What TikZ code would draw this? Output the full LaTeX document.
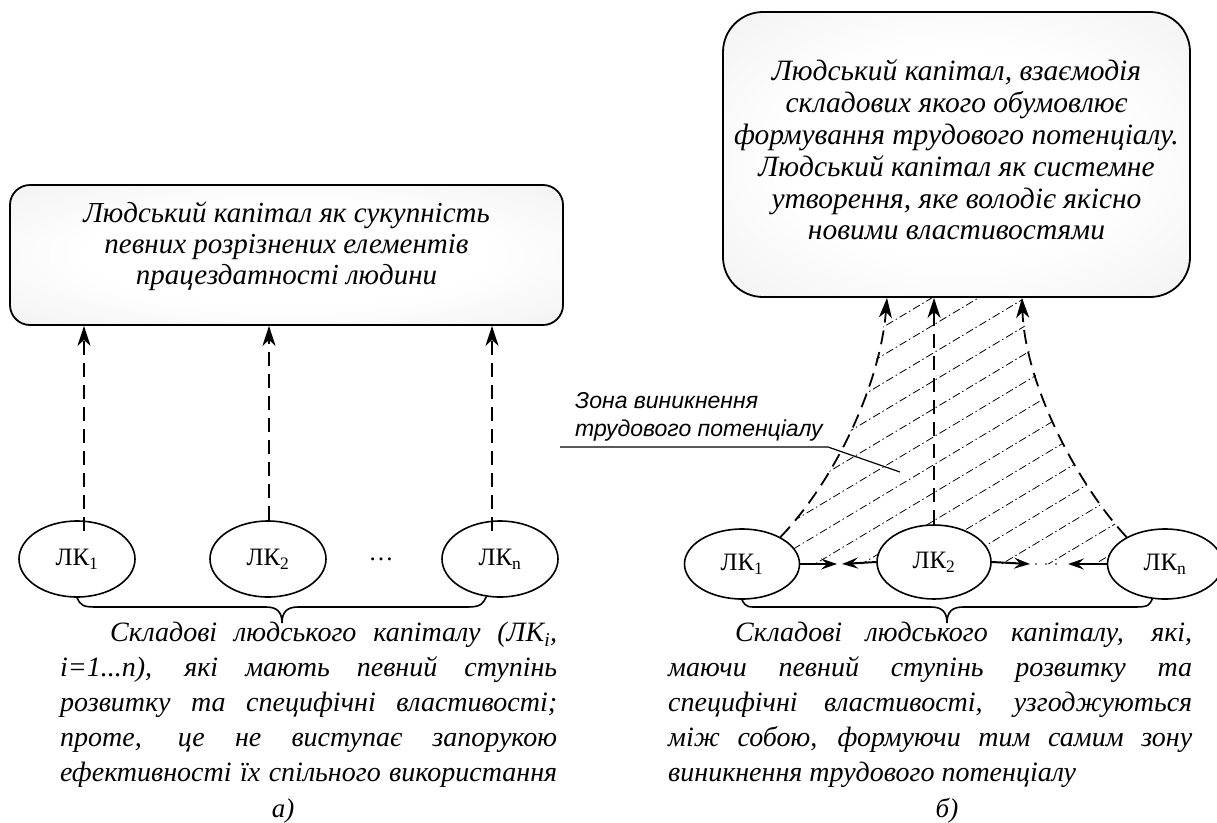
\documentclass[tikz,border=0pt]{standalone}
\usepackage{fontspec}
\setmainfont{Liberation Serif}
\newfontfamily\zonafont{Liberation Sans}
\usetikzlibrary{positioning,calc,shapes.geometric,arrows.meta,backgrounds}

\newcommand{\jline}[2]{\makebox[#1][s]{#2}}
\pgfdeclareradialshading{boxshade}{\pgfpoint{0bp}{0bp}}{color(0bp)=(white); color(18bp)=(white); color(50bp)=(black!9); color(71bp)=(black!12)}

\tikzset{
  topbox/.style={draw=black,line width=1.8pt,rounded corners=20pt,shading=boxshade},
  lk/.style={draw=black,line width=1.6pt,ellipse,fill=white,inner sep=0pt,font=\fontsize{25}{28}\selectfont},
  dasharr/.style={line width=1.8pt,dash pattern=on 14pt off 8pt,-{Stealth[length=20pt,width=13pt,inset=6pt]}},
  solarr/.style={line width=2pt,-{Stealth[length=16pt,width=11pt,inset=6pt]}},
  hatch/.style={line width=0.8pt,dash pattern=on 8pt off 3pt on 1.5pt off 3pt},
  brace/.style={line width=1.6pt},
  boxtext/.style={align=center,font=\itshape\fontsize{29}{31}\selectfont},
  desc/.style={inner sep=0pt,align=left,anchor=north west,font=\itshape\fontsize{28}{35}\selectfont},
}

\begin{document}
\begin{tikzpicture}[x=1pt,y=-1pt]
\useasboundingbox (0,0) rectangle (1217,822);

% --- a) ---
\node[topbox,minimum width=553pt,minimum height=140pt] (boxa) at (286.5,255) {};
\node[boxtext] (boxatext) at (286.5,246) {Людський капітал як сукупність\\певних розрізнених елементів\\працездатності людини};

\node[lk,minimum width=116pt,minimum height=76pt] (lk1) at (77,559) {ЛК\textsubscript{1}};
\node[lk,minimum width=116pt,minimum height=76pt] (lk2) at (268,559) {ЛК\textsubscript{2}};
\node[lk,minimum width=116pt,minimum height=76pt] (lkn) at (500,559) {ЛК\textsubscript{n}};
\node[font=\fontsize{25}{28}\selectfont] (dotsa) at (381,559) {\dots};

\coordinate (a1) at ([xshift=7pt,yshift=-11pt]lk1.north);
\coordinate (a2) at ([xshift=1pt]lk2.north);
\coordinate (an) at ([xshift=-8pt,yshift=-11pt]lkn.north);
\draw[dasharr] (a1) -- (a1 |- boxa.south);
\draw[dasharr] (a2) -- (a2 |- boxa.south);
\draw[dasharr] (an) -- (an |- boxa.south);

\coordinate (tipa) at (282,623);
\draw[brace] (lk1.south) .. controls +(4,8) and +(-14,0) .. (97,607) -- (266,607)
  .. controls +(11,0) and +(0,-11) .. (tipa) .. controls +(0,-11) and +(-11,0) .. (298,607)
  -- (468,607) .. controls +(14,0) and +(-3,6) .. (lkn.250);

\node[desc] (desca) at (60,622) {\hspace*{50pt}\jline{447pt}{Складові людського капіталу (ЛК\textsubscript{i},}\\
  \jline{497pt}{i=1...n), які мають певний ступінь}\\
  \jline{497pt}{розвитку та специфічні властивості;}\\
  \jline{497pt}{проте, це не виступає запорукою}\\
  \jline{497pt}{ефективності їх спільного використання}};

\node[font=\itshape\fontsize{27}{30}\selectfont] (laba) at (283,811) {а)};

% --- б) ---
\node[topbox,rounded corners=40pt,minimum width=467pt,minimum height=285pt] (boxb) at (956.5,154.5) {};
\node[boxtext,font=\itshape\fontsize{29.5}{31.8}\selectfont] (boxbtext) at (956.5,150) {Людський капітал, взаємодія\\складових якого обумовлює\\формування трудового потенціалу.\\Людський капітал як системне\\утворення, яке володіє якісно\\новими властивостями};

\node[lk,minimum width=115pt,minimum height=70pt] (lk1r) at (742,564) {ЛК\textsubscript{1}};
\node[lk,minimum width=114pt,minimum height=74pt] (lk2r) at (934,562) {ЛК\textsubscript{2}};
\node[lk,minimum width=115pt,minimum height=70pt] (lknr) at (1165,564) {ЛК\textsubscript{n}};

\coordinate (ta) at (887,0 |- boxb.south);
\coordinate (tb) at (1022,0 |- boxb.south);
\draw[dasharr] (lk1r.35) .. controls (835,480) and (880,385) .. (ta);
\draw[dasharr] (lk2r.north) -- (lk2r.north |- boxb.south);
\draw[dasharr] (lknr.145) .. controls (1078,485) and (1025,385) .. (tb);

% zone hatching
\begin{scope}[on background layer]
  \clip (lk1r.35) .. controls (835,480) and (880,385) .. (ta) -- (tb)
    .. controls (1025,385) and (1078,485) .. (lknr.145) -- (1132,564) -- (781,564) -- cycle;
  \foreach \k in {-4,...,13}
    \draw[hatch] (780,{352+28*\k+93}) -- (1135,{352+28*\k-120});
\end{scope}

\coordinate (ma) at (837,564);
\coordinate (mb) at (842,564);
\coordinate (mc) at (1030,564);
\coordinate (md) at (1068,564);
\draw[solarr] (lk1r.east) -- (ma);
\draw[solarr] (lk2r.west) -- (mb);
\draw[solarr] (lk2r.east) -- (mc);
\draw[solarr] (lknr.west) -- (md);
\coordinate (dta) at (1036,564);
\coordinate (dtb) at (1058,564);
\draw[line width=1.8pt,dash pattern=on 0pt off 10pt,line cap=round] (dta) -- (dtb);

\coordinate (tipb) at (947,623);
\draw[brace] (lk1r.south) .. controls +(4,8) and +(-14,0) .. (762,607) -- (931,607)
  .. controls +(11,0) and +(0,-11) .. (tipb) .. controls +(0,-11) and +(-11,0) .. (963,607)
  -- (1135,607) .. controls +(14,0) and +(-3,6) .. (lknr.250);

% zone label
\node[anchor=south west,align=left,inner sep=0pt,font=\zonafont\itshape\fontsize{23}{28}\selectfont] (zona) at (575,441) {Зона виникнення\\трудового потенціалу};
\coordinate (zla) at (560,447);
\coordinate (zlb) at (828,447);
\coordinate (zlc) at (900,472);
\draw[line width=1.2pt] (zla) -- (zlb) -- (zlc);

\node[desc] (descb) at (668,622) {\hspace*{67pt}\jline{457pt}{Складові людського капіталу, які,}\\
  \jline{524pt}{маючи певний ступінь розвитку та}\\
  \jline{524pt}{специфічні властивості, узгоджуються}\\
  \jline{524pt}{між собою, формуючи тим самим зону}\\
  виникнення трудового потенціалу};

\node[font=\itshape\fontsize{27}{30}\selectfont] (labb) at (947,811) {б)};
\end{tikzpicture}
\end{document}
